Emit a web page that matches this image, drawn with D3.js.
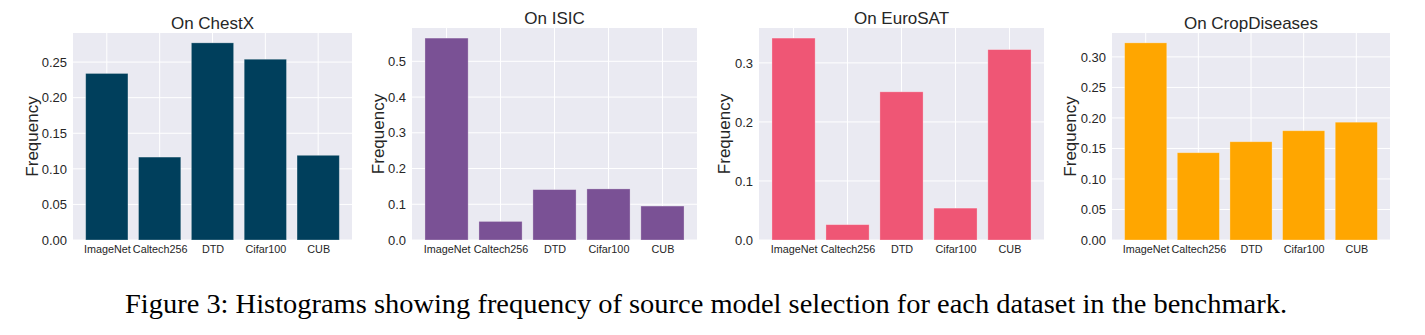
<!DOCTYPE html>
<html><head><meta charset="utf-8">
<script src="https://cdn.jsdelivr.net/npm/d3@7"></script>
<style>
body{margin:0;background:#fff;}
svg{display:block;}
</style></head>
<body>
<svg id="chart" width="1425" height="335"></svg>
<script>
const categories = ["ImageNet","Caltech256","DTD","Cifar100","CUB"];
const chestx = [0.234, 0.1165, 0.277, 0.254, 0.119];
const isic = [0.565, 0.052, 0.141, 0.143, 0.095];
const eurosat = [0.342, 0.026, 0.251, 0.054, 0.3225];
const cropdiseases = [0.323, 0.143, 0.161, 0.179, 0.193];
const titles = ["On ChestX","On ISIC","On EuroSAT","On CropDiseases"];
const colors = ["#003f5c","#7a5195","#ef5675","#ffa600"];
const ticksChestx = [0,0.05,0.10,0.15,0.20,0.25];
const ticksIsic = [0,0.1,0.2,0.3,0.4,0.5];
const ticksEurosat = [0,0.1,0.2,0.3];
const ticksCrop = [0,0.05,0.10,0.15,0.20,0.25,0.30];
const tickFormats = [".2f",".1f",".1f",".2f"];
const yLabel = "Frequency";
const caption = "Figure 3: Histograms showing frequency of source model selection for each dataset in the benchmark.";

const seriesList = [chestx, isic, eurosat, cropdiseases];
const tickList = [ticksChestx, ticksIsic, ticksEurosat, ticksCrop];
// layout of each plot area (pixels)
const panels = [
  {left:73, right:352, top:33, bottom:240, ylab:32},
  {left:412, right:697, top:28, bottom:240, ylab:378},
  {left:759, right:1044, top:28, bottom:240, ylab:724},
  {left:1112, right:1390, top:33, bottom:240, ylab:1070}
];
const svg = d3.select("#chart");
const textColor = "#262626";
const font = "Liberation Sans, Arial, sans-serif";

panels.forEach((p,i)=>{
  const data = seriesList[i];
  const maxV = d3.max(data)*1.05;
  const y = d3.scaleLinear().domain([0,maxV]).range([p.bottom,p.top]);
  // matplotlib-like x: categories 0..4, bar width 0.8, 5% margins
  const x = d3.scaleLinear().domain([-0.64,4.64]).range([p.left,p.right]);
  const g = svg.append("g");
  g.append("rect").attr("x",p.left).attr("y",p.top)
    .attr("width",p.right-p.left).attr("height",p.bottom-p.top).attr("fill","#eaeaf2");
  // horizontal grid
  g.selectAll(".hg").data(tickList[i]).enter().append("line")
    .attr("x1",p.left).attr("x2",p.right)
    .attr("y1",d=>y(d)).attr("y2",d=>y(d))
    .attr("stroke","#fff").attr("stroke-width",1);
  // vertical grid
  g.selectAll(".vg").data(categories).enter().append("line")
    .attr("x1",(d,j)=>x(j)).attr("x2",(d,j)=>x(j))
    .attr("y1",p.top).attr("y2",p.bottom)
    .attr("stroke","#fff").attr("stroke-width",1);
  // bars
  g.selectAll(".bar").data(data).enter().append("rect")
    .attr("x",(d,j)=>x(j-0.4)).attr("width",x(0.4)-x(-0.4))
    .attr("y",d=>y(d)).attr("height",d=>y(0)-y(d))
    .attr("fill",colors[i]).attr("stroke","#ffffff").attr("stroke-opacity",0.35).attr("stroke-width",0.8);
  // y axis
  const fmt = d3.format(tickFormats[i]);
  const ya = d3.axisLeft(y).tickValues(tickList[i]).tickFormat(fmt).tickSize(0).tickPadding(6);
  const yg = g.append("g").attr("transform",`translate(${p.left},0)`).call(ya);
  yg.select(".domain").remove();
  yg.selectAll("text").attr("font-family",font).attr("font-size",13).attr("fill",textColor);
  // x axis
  const xa = d3.axisBottom(x).tickValues(d3.range(categories.length)).tickFormat(j=>categories[j]).tickSize(0).tickPadding(5);
  const xg = g.append("g").attr("transform",`translate(0,${p.bottom})`).call(xa);
  xg.select(".domain").remove();
  xg.selectAll("text").attr("font-family",font).attr("font-size",10.8).attr("fill",textColor);
  // title
  g.append("text").attr("x",(p.left+p.right)/2).attr("y",p.top-4.5)
    .attr("text-anchor","middle").attr("font-family",font).attr("font-size",17)
    .attr("fill",textColor).text(titles[i]);
  // y label
  g.append("text").attr("transform",`translate(${p.ylab},${(p.top+p.bottom)/2}) rotate(-90)`)
    .attr("text-anchor","middle").attr("dy","0.35em").attr("font-family",font).attr("font-size",17)
    .attr("fill",textColor).text(yLabel);
});

svg.append("text").attr("x",125).attr("y",313)
  .attr("font-family","Liberation Serif, Times New Roman, serif").attr("font-size",27)
  .attr("textLength",1162).attr("lengthAdjust","spacingAndGlyphs")
  .attr("fill","#000").text(caption);
</script>
</body></html>
